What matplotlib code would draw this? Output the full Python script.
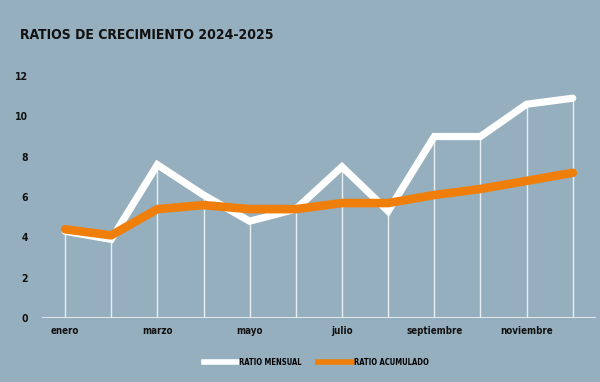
import matplotlib.pyplot as plt
from matplotlib.lines import Line2D

meses = ['enero', 'febrero', 'marzo', 'abril', 'mayo', 'junio', 'julio',
         'agosto', 'septiembre', 'octubre', 'noviembre', 'diciembre']
ratio_mensual = [4.3, 3.9, 7.6, 6.1, 4.8, 5.4, 7.5, 5.3, 9.0, 9.0, 10.6, 10.9]
ratio_acumulado = [4.4, 4.1, 5.4, 5.6, 5.4, 5.4, 5.7, 5.7, 6.1, 6.4, 6.8, 7.2]

fondo = '#96afbe'
naranja = '#ef7f0a'
fuente = dict(family='DejaVu Sans', stretch='condensed', weight='bold')

fig = plt.figure(figsize=(6, 3.82), dpi=100, facecolor=fondo)
ax = fig.add_axes([0.07, 0.1675, 0.923, 0.6335])
ax.set_facecolor(fondo)

x = list(range(len(meses)))
ax.vlines(x, 0, ratio_mensual, color='#e8eef2', linewidth=1, zorder=1)
ax.axhline(0, color='#e8eef2', linewidth=2, zorder=1)
ax.plot(x, ratio_mensual, color='white', linewidth=5.2, solid_capstyle='round',
        solid_joinstyle='miter', zorder=2, clip_on=False)
ax.plot(x, ratio_acumulado, color=naranja, linewidth=6.2, solid_capstyle='round',
        solid_joinstyle='round', zorder=3, clip_on=False)

ax.set_xlim(-0.5, 11.5)
ax.set_ylim(0, 12)
ax.set_yticks(range(0, 13, 2))
ax.set_yticklabels([str(v) for v in range(0, 13, 2)], fontsize=7.5,
                   color='#111111', **fuente)
ax.set_xticks(x[::2])
ax.set_xticklabels(meses[::2], fontsize=7, color='#111111', **fuente)
ax.tick_params(axis='y', length=0, pad=10)
ax.tick_params(axis='x', length=0, pad=6)
for s in ax.spines.values():
    s.set_visible(False)

fig.text(0.033, 0.908, 'RATIOS DE CRECIMIENTO 2024-2025', fontsize=10,
         color='#111111', va='center', **fuente)

handles = [Line2D([], [], color='white', linewidth=4),
           Line2D([], [], color=naranja, linewidth=4)]
fig.legend(handles, ['RATIO MENSUAL', 'RATIO ACUMULADO'], loc='center',
           bbox_to_anchor=(0.527, 0.052), ncol=2, frameon=False,
           handlelength=4.5, handletextpad=0.1, columnspacing=2.2,
           prop={'family': 'DejaVu Sans', 'stretch': 'condensed',
                 'weight': 'bold', 'size': 5.5})

fig.savefig('out.png', dpi=100, facecolor=fondo)
